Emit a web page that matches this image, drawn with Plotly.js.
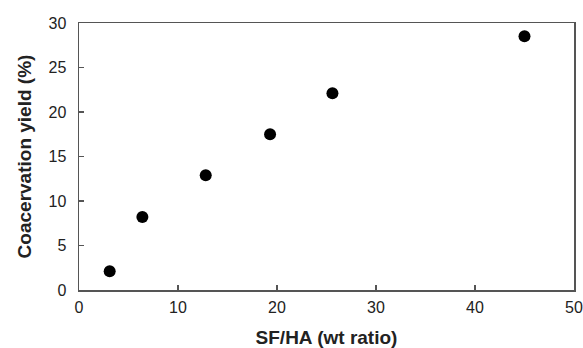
<!DOCTYPE html>
<html>
<head>
<meta charset="utf-8">
<script src="https://cdn.plot.ly/plotly-3.0.1.min.js"></script>
<style>html,body{margin:0;padding:0;background:#fff;}#chart{width:583px;height:348px;}</style>
</head>
<body>
<div id="chart"></div>
<script>
const ratio = [3.1, 6.4, 12.8, 19.3, 25.6, 45.0];
const yieldPct = [2.1, 8.2, 12.9, 17.5, 22.1, 28.5];
const xTicks = [0, 10, 20, 30, 40, 50];
const yTicks = [0, 5, 10, 15, 20, 25, 30];

const trace = {
  x: ratio, y: yieldPct, type: 'scatter', mode: 'markers',
  marker: {color: '#000', size: 12, line: {width: 0}},
  hoverinfo: 'skip'
};
const font = {family: 'Liberation Sans, Arial, sans-serif', color: '#222'};
const layout = {
  width: 583, height: 348,
  margin: {l: 79, r: 9, t: 23, b: 58},
  paper_bgcolor: '#fff', plot_bgcolor: '#fff',
  showlegend: false,
  font: font,
  xaxis: {
    range: [0, 50], tickvals: xTicks, ticktext: xTicks.map(String),
    showgrid: false, zeroline: false,
    showline: true, linecolor: '#555', linewidth: 1.5, mirror: true,
    ticks: 'inside', ticklen: 5, tickcolor: '#555', tickwidth: 1.5,
    tickfont: {size: 16, color: '#222', family: font.family},
    ticklabelstandoff: 2,
    title: {text: '<b>SF/HA (wt ratio)</b>', font: {size: 19, color: '#222', family: font.family}, standoff: 18}
  },
  yaxis: {
    range: [0, 30], tickvals: yTicks, ticktext: yTicks.map(String),
    showgrid: false, zeroline: false,
    showline: true, linecolor: '#555', linewidth: 1.5, mirror: true,
    ticks: 'inside', ticklen: 5, tickcolor: '#555', tickwidth: 1.5,
    tickfont: {size: 16, color: '#222', family: font.family},
    ticklabelstandoff: 8,
    title: {text: '<b>Coacervation yield (%)</b>', font: {size: 19, color: '#222', family: font.family}, standoff: 12}
  }
};
Plotly.newPlot('chart', [trace], layout, {staticPlot: true, displayModeBar: false});
</script>
</body>
</html>
